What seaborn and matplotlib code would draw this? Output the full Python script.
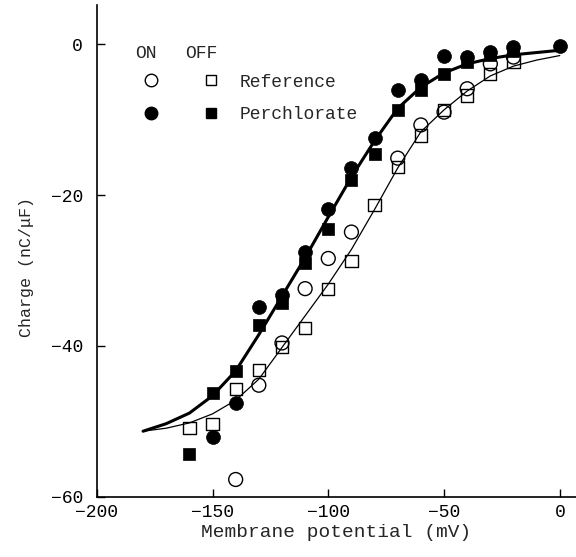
import numpy as np
import pandas as pd
import matplotlib
matplotlib.use("Agg")
import matplotlib.pyplot as plt
import seaborn as sns
from matplotlib.lines import Line2D

# ---------------- data ----------------
v_on_ref = [-140, -130, -120, -110, -100, -90, -70, -60, -50, -40, -30, -20]
q_on_ref = [-57.7, -45.2, -39.6, -32.4, -28.4, -24.9, -15.1, -10.7, -9.0, -5.9, -2.6, -1.7]

v_off_ref = [-160, -150, -140, -130, -120, -110, -100, -90, -80, -70, -60, -50, -40, -30, -20]
q_off_ref = [-50.9, -50.3, -45.7, -43.2, -40.1, -37.6, -32.4, -28.7, -21.3, -16.3, -12.1, -8.7, -6.8, -3.9, -2.3]

v_on_per = [-150, -140, -130, -120, -110, -100, -90, -80, -70, -60, -50, -40, -30, -20, 0]
q_on_per = [-52.1, -47.5, -34.8, -33.2, -27.6, -21.9, -16.4, -12.4, -6.1, -4.8, -1.6, -1.7, -1.0, -0.4, -0.2]

v_off_per = [-160, -150, -140, -130, -120, -110, -100, -90, -80, -70, -60, -50, -40, -30, -20]
q_off_per = [-54.3, -46.2, -43.3, -37.2, -34.3, -29.0, -24.5, -18.0, -14.6, -8.7, -6.1, -3.9, -2.4, -1.4, -0.9]

# fitted curves, every 10 mV
v_fit = [-180, -170, -160, -150, -140, -130, -120, -110, -100, -90,
         -80, -70, -60, -50, -40, -30, -20, -10, 0]
q_fit_ref = [-51.3, -50.9, -50.2, -49.0, -47.2, -44.4, -40.2, -36.0, -31.8, -27.2,
             -21.9, -16.4, -11.6, -8.7, -6.2, -4.2, -2.9, -2.1, -1.5]
q_fit_per = [-51.3, -50.3, -48.9, -46.6, -43.3, -38.5, -33.4, -28.3, -22.9, -17.6,
             -12.8, -8.5, -5.7, -3.8, -2.6, -1.9, -1.4, -1.1, -0.8]

x_ticks = [-200, -150, -100, -50, 0]
y_ticks = [-60, -40, -20, 0]
x_label = "Membrane potential (mV)"
y_label = "Charge (nC/\u03bcF)"
legend_labels = ["Reference", "Perchlorate"]
legend_headers = ["ON", "OFF"]

# ---------------- style ----------------
sns.set_theme(style="ticks")
plt.rcParams["font.family"] = ["Liberation Mono", "DejaVu Sans"]
plt.rcParams["axes.unicode_minus"] = True

fig = plt.figure(figsize=(5.76, 5.57), dpi=100)
ax = fig.add_axes([0.168, 0.108, 0.832, 0.883])

fits = pd.DataFrame({"V": v_fit, "ref": q_fit_ref, "per": q_fit_per})
sns.lineplot(data=fits, x="V", y="ref", ax=ax, color="black", lw=0.9, sort=True)
sns.lineplot(data=fits, x="V", y="per", ax=ax, color="black", lw=2.2, sort=True)

ms_c = 100
ms_s = 78
sns.scatterplot(x=v_on_per, y=q_on_per, ax=ax, marker="o", s=ms_c,
                color="black", edgecolor="black", linewidth=0.5, zorder=3)
sns.scatterplot(x=v_off_per, y=q_off_per, ax=ax, marker="s", s=ms_s,
                color="black", edgecolor="black", linewidth=0.5, zorder=3)
sns.scatterplot(x=v_on_ref, y=q_on_ref, ax=ax, marker="o", s=ms_c,
                facecolor="none", edgecolor="black", linewidth=1.0, zorder=4)
sns.scatterplot(x=v_off_ref, y=q_off_ref, ax=ax, marker="s", s=ms_s,
                facecolor="none", edgecolor="black", linewidth=1.0, zorder=4)

ax.set_xlim(-200, 7)
ax.set_ylim(-60, 5.2)
ax.set_xticks(x_ticks)
ax.set_yticks(y_ticks)
ax.set_xticklabels([f"{t:d}".replace("-", "\u2212") for t in x_ticks])
ax.set_yticklabels([f"{t:d}".replace("-", "\u2212") for t in y_ticks])
ax.tick_params(direction="in", length=6, width=1.0, labelsize=13, colors="black")
ax.tick_params(axis="x", pad=5)
ax.tick_params(axis="y", pad=10)
ax.set_xlabel(x_label, fontsize=14)
ax.set_ylabel(y_label, fontsize=12)
ax.xaxis.set_label_coords(0.5, -0.055)
ax.yaxis.set_label_coords(-0.13, 0.467)
for side in ["top", "right"]:
    ax.spines[side].set_visible(False)
for side in ["left", "bottom"]:
    ax.spines[side].set_linewidth(1.2)
    ax.spines[side].set_color("black")

# ---------------- legend ----------------
h_oc = Line2D([], [], ls="none", marker="o", ms=9, mfc="none", mec="black", mew=1.0)
h_fc = Line2D([], [], ls="none", marker="o", ms=9, mfc="black", mec="black")
h_os = Line2D([], [], ls="none", marker="s", ms=7.5, mfc="none", mec="black", mew=1.0)
h_fs = Line2D([], [], ls="none", marker="s", ms=7.5, mfc="black", mec="black")
leg = ax.legend([h_oc, h_fc, h_os, h_fs], ["", "", legend_labels[0], legend_labels[1]],
                ncol=2, frameon=False, loc="upper left", bbox_to_anchor=(0.076, 0.879),
                fontsize=13, handlelength=1.0, handletextpad=1.11,
                columnspacing=1.19, labelspacing=0.85, borderpad=0)
ax.text(0.102, 0.902, legend_headers[0], transform=ax.transAxes, fontsize=13,
        ha="center", va="center")
ax.text(0.217, 0.902, legend_headers[1], transform=ax.transAxes, fontsize=13,
        ha="center", va="center")

fig.savefig("out.png", dpi=100)
